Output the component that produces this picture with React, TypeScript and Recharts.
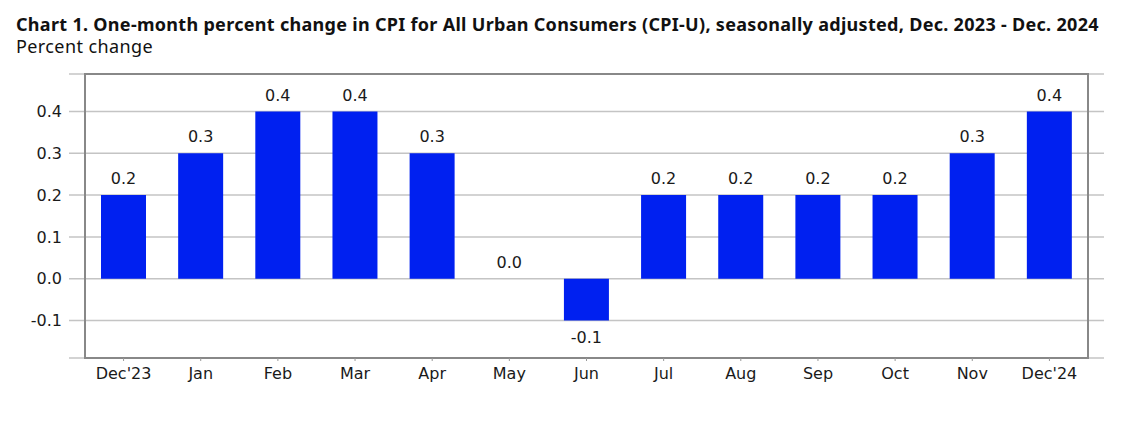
import React from "react";
import {
  BarChart,
  Bar,
  XAxis,
  YAxis,
  CartesianGrid,
  LabelList,
  ReferenceArea,
} from "recharts";

const months = ["Dec'23", "Jan", "Feb", "Mar", "Apr", "May", "Jun", "Jul", "Aug", "Sep", "Oct", "Nov", "Dec'24"];
const changes = [0.2, 0.3, 0.4, 0.4, 0.3, 0.0, -0.1, 0.2, 0.2, 0.2, 0.2, 0.3, 0.4];
const yTicks = [-0.1, 0, 0.1, 0.2, 0.3, 0.4];
const yMin = -0.19;
const yMax = 0.49;

const data = months.map((m, i) => ({ month: m, value: changes[i] }));

const tickFont = { fontFamily: "DejaVu Sans", fontSize: 16, fill: "#1a1a1a" };

const App: React.FC = () => {
  return (
    <div style={{ position: "relative", width: 1133, height: 424 }}>
      <div
        style={{
          position: "absolute",
          left: 8,
          top: 5,
          fontFamily: "Noto Sans",
          fontWeight: 700,
          fontSize: 18,
          letterSpacing: 0.3,
          color: "#111",
          whiteSpace: "nowrap",
          lineHeight: "22px",
        }}
      >
        Chart 1. One-month percent change in CPI for All Urban Consumers (CPI-U), seasonally adjusted, Dec. 2023 - Dec. 2024
      </div>
      <div
        style={{
          position: "absolute",
          left: 8,
          top: 27,
          fontFamily: "Noto Sans",
          fontSize: 18,
          letterSpacing: 0.4,
          color: "#111",
          lineHeight: "22px",
        }}
      >
        Percent change
      </div>
      <div style={{ position: "absolute", left: 0, top: 0 }}>
        <BarChart
          width={1133}
          height={424}
          data={data}
          margin={{ top: 66, right: 37, bottom: 44, left: 0 }}
          barSize={45}
        >
          <CartesianGrid vertical={false} stroke="#c4c4c4" strokeWidth={1.5} />
          <XAxis
            dataKey="month"
            axisLine={false}
            tickLine={{ stroke: "#999" }}
            tickSize={3}
            tickMargin={7}
            tick={tickFont}
            padding={{ left: 16, right: 16 }}
            height={30}
          />
          <YAxis
            type="number"
            domain={[yMin, yMax]}
            ticks={yTicks}
            allowDataOverflow
            axisLine={false}
            tickLine={false}
            tickSize={5}
            tickMargin={2}
            width={61}
            tick={tickFont}
            tickFormatter={(v: number) => v.toFixed(1)}
          />
          <Bar
            dataKey="value"
            fill="#0020f0"
            isAnimationActive={false}
            minPointSize={(v: number) => (v === 0 ? 0.01 : 0)}
          >
            <LabelList
              dataKey="value"
              position="top"
              offset={11}
              formatter={(v: number) => Number(v).toFixed(1)}
              style={tickFont}
            />
          </Bar>
          <ReferenceArea
            y1={yMin}
            y2={yMax}
            fill="none"
            stroke="#888"
            strokeWidth={2}
            ifOverflow="extendDomain"
          />
        </BarChart>
      </div>
    </div>
  );
};

export default App;
